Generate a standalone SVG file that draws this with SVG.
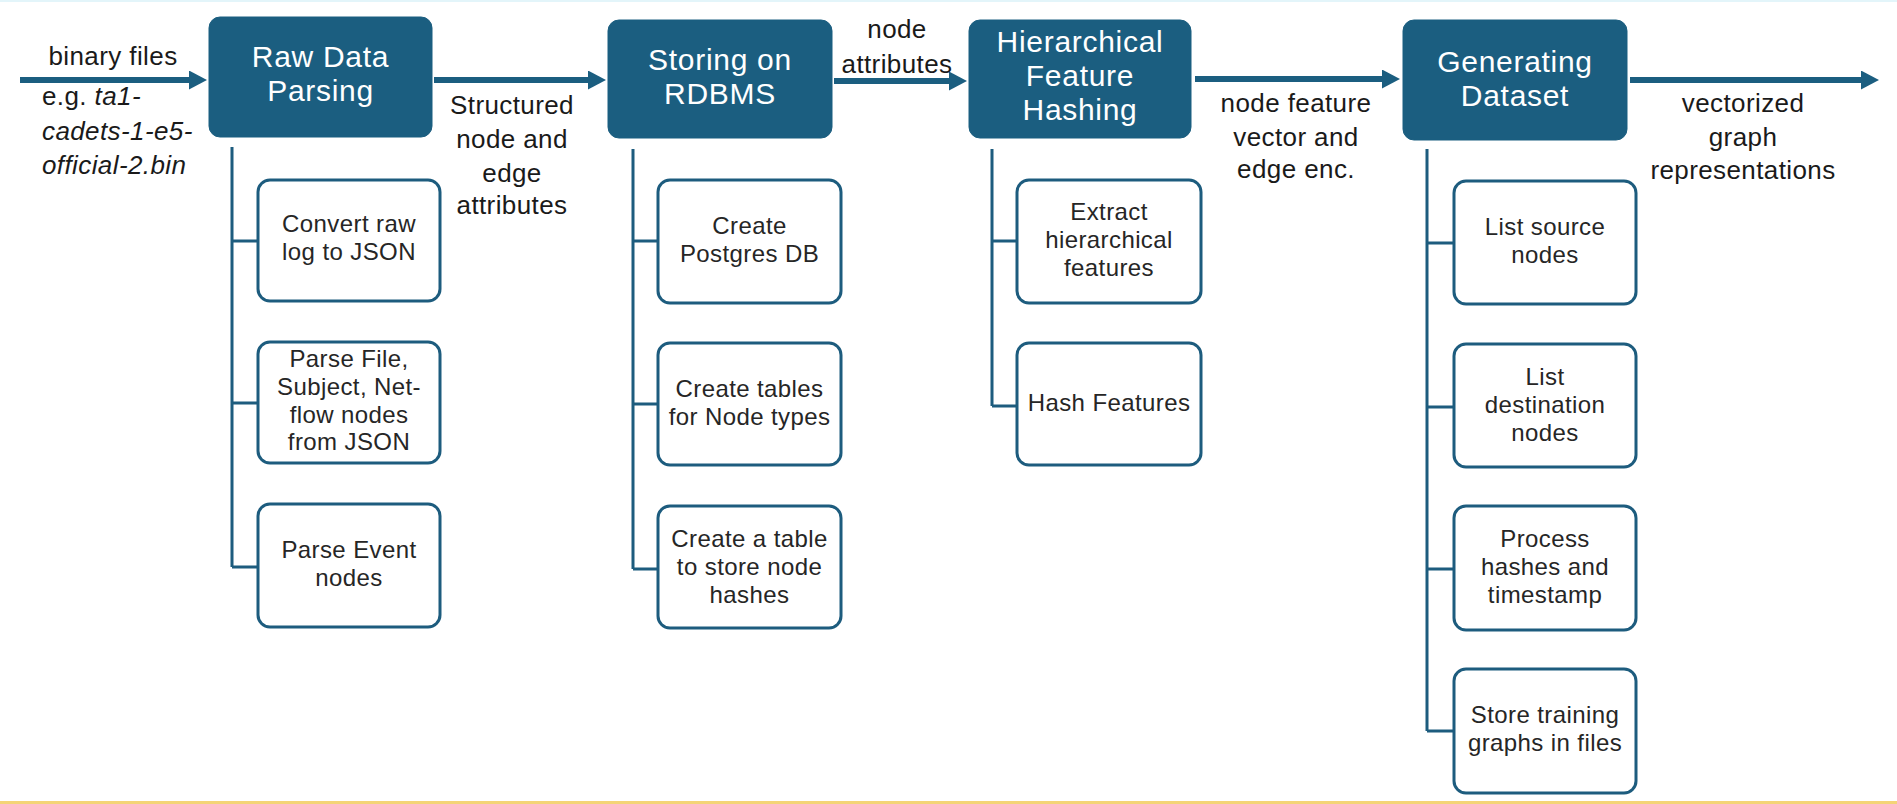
<svg xmlns="http://www.w3.org/2000/svg" width="1897" height="804" viewBox="0 0 1897 804">
<style>
.main{fill:#1b5e80;stroke:#1b5e80;stroke-width:1}
.sub{fill:#ffffff;stroke:#1d5c7e;stroke-width:3}
.mt{font-family:"Liberation Sans",Arial,sans-serif;font-size:30px;letter-spacing:0.7px;fill:#ffffff;text-anchor:middle}
.st{font-family:"Liberation Sans",Arial,sans-serif;font-size:24px;letter-spacing:0.4px;fill:#262626;text-anchor:middle}
.lb{font-family:"Liberation Sans",Arial,sans-serif;font-size:26px;letter-spacing:0.4px;fill:#1a1a1a;text-anchor:middle}
.lbl{font-family:"Liberation Sans",Arial,sans-serif;font-size:26px;letter-spacing:0.4px;fill:#1a1a1a}
.arr{stroke:#1b5e80;stroke-width:6;fill:none;marker-end:url(#ah)}
.tr{stroke:#1d5c7e;stroke-width:3;fill:none}
</style>
<defs>
<marker id="ah" markerUnits="userSpaceOnUse" markerWidth="18" markerHeight="19" viewBox="0 0 18 19" refX="6" refY="9.5" orient="auto">
<path d="M0,0 L18,9.5 L0,19 z" fill="#1b5e80"/>
</marker>
</defs>
<rect x="0" y="0" width="1897" height="804" fill="#ffffff"/>
<rect x="0" y="0" width="1897" height="2" fill="#e3f5fa"/>
<rect x="0" y="801" width="1897" height="3" fill="#f4d477"/>

<g id="connectors">
<line class="arr" x1="20" y1="80" x2="195" y2="80"/>
<line class="arr" x1="434" y1="80" x2="594" y2="80"/>
<line class="arr" x1="834" y1="81" x2="955" y2="81"/>
<line class="arr" x1="1195" y1="79" x2="1388" y2="79"/>
<line class="arr" x1="1630" y1="80" x2="1867" y2="80"/>
<path class="tr" d="M232,147 V567 M232,241 H258 M232,403 H258 M232,567 H258"/>
<path class="tr" d="M633,149 V569 M633,241 H658 M633,404 H658 M633,569 H658"/>
<path class="tr" d="M992,149 V406 M992,241 H1017 M992,406 H1017"/>
<path class="tr" d="M1427,149 V731 M1427,243 H1454 M1427,407 H1454 M1427,569 H1454 M1427,731 H1454"/>
</g>

<g id="labels">
<text class="lb" x="113" y="65">binary files</text>
<text class="lbl" x="42" y="105">e.g. <tspan font-style="italic">ta1-</tspan></text>
<text class="lbl" x="42" y="140" font-style="italic">cadets-1-e5-</text>
<text class="lbl" x="42" y="174" font-style="italic">official-2.bin</text>
<text class="lb" x="512" y="114">Structured</text>
<text class="lb" x="512" y="148">node and</text>
<text class="lb" x="512" y="182">edge</text>
<text class="lb" x="512" y="214">attributes</text>
<text class="lb" x="897" y="38">node</text>
<text class="lb" x="897" y="73">attributes</text>
<text class="lb" x="1296" y="112">node feature</text>
<text class="lb" x="1296" y="146">vector and</text>
<text class="lb" x="1296" y="178">edge enc.</text>
<text class="lb" x="1743" y="112">vectorized</text>
<text class="lb" x="1743" y="146">graph</text>
<text class="lb" x="1743" y="179">representations</text>
</g>

<g id="raw-data-parsing">
<rect class="main" x="209" y="17" width="223" height="120" rx="11"/>
<text class="mt" x="320.5" y="67">Raw Data</text>
<text class="mt" x="320.5" y="101">Parsing</text>
</g>
<g id="storing-on-rdbms">
<rect class="main" x="608" y="20" width="224" height="118" rx="11"/>
<text class="mt" x="720" y="70">Storing on</text>
<text class="mt" x="720" y="104">RDBMS</text>
</g>
<g id="hierarchical-feature-hashing">
<rect class="main" x="969" y="20" width="222" height="118" rx="11"/>
<text class="mt" x="1080" y="52">Hierarchical</text>
<text class="mt" x="1080" y="86">Feature</text>
<text class="mt" x="1080" y="120">Hashing</text>
</g>
<g id="generating-dataset">
<rect class="main" x="1403" y="20" width="224" height="120" rx="11"/>
<text class="mt" x="1515" y="72">Generating</text>
<text class="mt" x="1515" y="106">Dataset</text>
</g>

<g id="convert-raw-log">
<rect class="sub" x="258" y="180" width="182" height="121" rx="12"/>
<text class="st" x="349" y="232">Convert raw</text>
<text class="st" x="349" y="259.8">log to JSON</text>
</g>
<g id="parse-file-subject">
<rect class="sub" x="258" y="342" width="182" height="121" rx="12"/>
<text class="st" x="349" y="367">Parse File,</text>
<text class="st" x="349" y="394.8">Subject, Net-</text>
<text class="st" x="349" y="422.6">flow nodes</text>
<text class="st" x="349" y="450.4">from JSON</text>
</g>
<g id="parse-event-nodes">
<rect class="sub" x="258" y="504" width="182" height="123" rx="12"/>
<text class="st" x="349" y="558">Parse Event</text>
<text class="st" x="349" y="585.8">nodes</text>
</g>

<g id="create-postgres-db">
<rect class="sub" x="658" y="180" width="183" height="123" rx="12"/>
<text class="st" x="749.5" y="234">Create</text>
<text class="st" x="749.5" y="261.8">Postgres DB</text>
</g>
<g id="create-tables-node-types">
<rect class="sub" x="658" y="343" width="183" height="122" rx="12"/>
<text class="st" x="749.5" y="397">Create tables</text>
<text class="st" x="749.5" y="424.8">for Node types</text>
</g>
<g id="create-table-node-hashes">
<rect class="sub" x="658" y="506" width="183" height="122" rx="12"/>
<text class="st" x="749.5" y="547">Create a table</text>
<text class="st" x="749.5" y="574.8">to store node</text>
<text class="st" x="749.5" y="602.6">hashes</text>
</g>

<g id="extract-hierarchical-features">
<rect class="sub" x="1017" y="180" width="184" height="123" rx="12"/>
<text class="st" x="1109" y="220">Extract</text>
<text class="st" x="1109" y="247.8">hierarchical</text>
<text class="st" x="1109" y="275.6">features</text>
</g>
<g id="hash-features">
<rect class="sub" x="1017" y="343" width="184" height="122" rx="12"/>
<text class="st" x="1109" y="411">Hash Features</text>
</g>

<g id="list-source-nodes">
<rect class="sub" x="1454" y="181" width="182" height="123" rx="12"/>
<text class="st" x="1545" y="235">List source</text>
<text class="st" x="1545" y="262.8">nodes</text>
</g>
<g id="list-destination-nodes">
<rect class="sub" x="1454" y="344" width="182" height="123" rx="12"/>
<text class="st" x="1545" y="385">List</text>
<text class="st" x="1545" y="412.8">destination</text>
<text class="st" x="1545" y="440.6">nodes</text>
</g>
<g id="process-hashes-timestamp">
<rect class="sub" x="1454" y="506" width="182" height="124" rx="12"/>
<text class="st" x="1545" y="547">Process</text>
<text class="st" x="1545" y="574.8">hashes and</text>
<text class="st" x="1545" y="602.6">timestamp</text>
</g>
<g id="store-training-graphs">
<rect class="sub" x="1454" y="669" width="182" height="124" rx="12"/>
<text class="st" x="1545" y="723">Store training</text>
<text class="st" x="1545" y="750.8">graphs in files</text>
</g>
</svg>
